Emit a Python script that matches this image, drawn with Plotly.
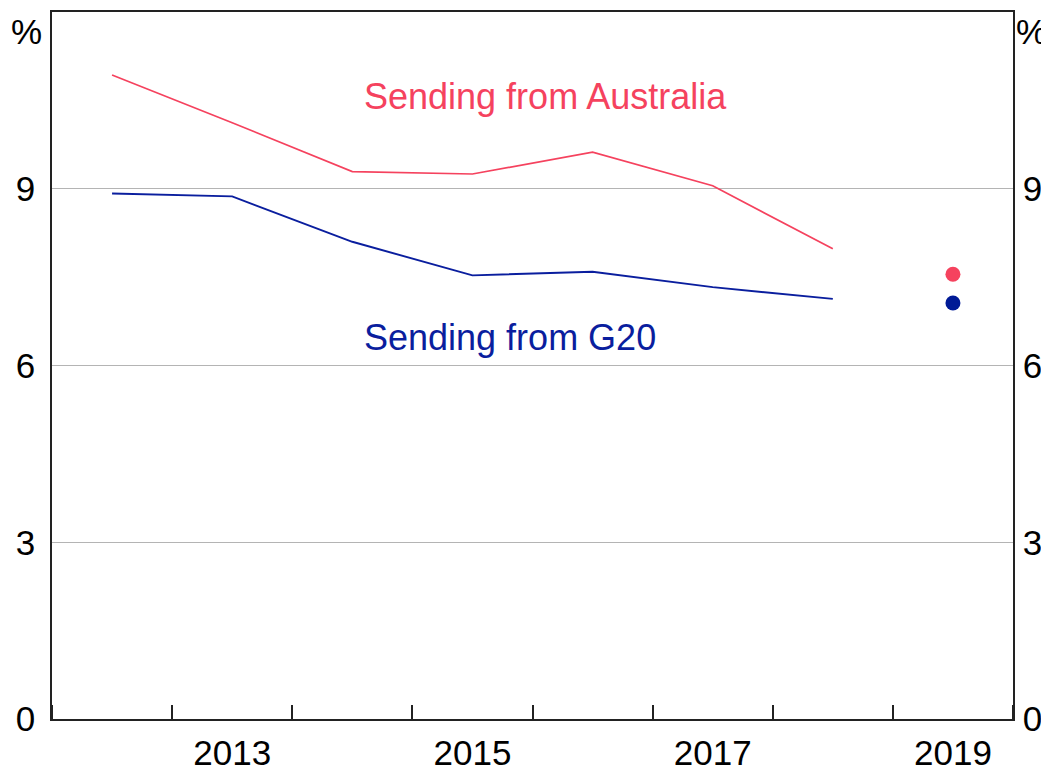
import plotly.graph_objects as go

# Data (%)
years = [2012.5, 2013.5, 2014.5, 2015.5, 2016.5, 2017.5, 2018.5]
australia = [10.93, 10.12, 9.29, 9.25, 9.62, 9.05, 7.98]
g20 = [8.92, 8.87, 8.10, 7.53, 7.59, 7.33, 7.13]
latest_year = [2019.5]
australia_latest = [7.55]
g20_latest = [7.06]

x_label_vals = [2013.5, 2015.5, 2017.5, 2019.5]
x_label_text = ["2013", "2015", "2017", "2019"]
y_ticks = [0, 3, 6, 9]

RED = "#F5425E"
BLUE = "#0A1E9E"
FONT = "Arial, Liberation Sans, sans-serif"

fig = go.Figure()
fig.add_trace(go.Scatter(x=years, y=australia, mode="lines",
                         line=dict(color=RED, width=1.7), showlegend=False))
fig.add_trace(go.Scatter(x=years, y=g20, mode="lines",
                         line=dict(color=BLUE, width=1.9), showlegend=False))
fig.add_trace(go.Scatter(x=latest_year, y=australia_latest, mode="markers",
                         marker=dict(color=RED, size=15), showlegend=False,
                         yaxis="y2"))
fig.add_trace(go.Scatter(x=latest_year, y=g20_latest, mode="markers",
                         marker=dict(color="#001A96", size=15), showlegend=False,
                         yaxis="y2"))

fig.add_annotation(x=2014.58, y=10.56, text="Sending from Australia",
                   xanchor="left", yanchor="middle", showarrow=False,
                   font=dict(color=RED, size=36, family=FONT))
fig.add_annotation(x=2014.58, y=6.47, text="Sending from G20",
                   xanchor="left", yanchor="middle", showarrow=False,
                   font=dict(color=BLUE, size=36, family=FONT))
for xp, xa, xs in [(0, "right", -8), (1, "left", 1)]:
    fig.add_annotation(x=xp, y=1, xref="paper", yref="paper", text="%",
                       xanchor=xa, yanchor="top", showarrow=False,
                       xshift=xs, yshift=2,
                       font=dict(color="black", size=35, family=FONT))

axis_line = dict(showline=True, linecolor="#222", linewidth=1.5,
                 automargin=False)

# The page body has an 8px margin, so the figure is sized to fit the window.
fig.update_layout(
    width=1041, height=763,
    margin=dict(l=44, r=36, t=4, b=52),
    plot_bgcolor="white", paper_bgcolor="white",
    font=dict(family=FONT, size=35, color="black"),
    xaxis=dict(range=[2012, 2020], tickmode="array", tickvals=x_label_vals,
               ticktext=x_label_text, ticks="", showgrid=False, zeroline=False,
               mirror=True, ticklabelstandoff=2,
               minor=dict(tickmode="linear", tick0=2012, dtick=1,
                          ticks="inside", ticklen=14, tickcolor="#222",
                          tickwidth=1.5, showgrid=False),
               **axis_line),
    yaxis=dict(range=[0, 12], tickmode="array", tickvals=y_ticks,
               ticks="", showgrid=True, gridcolor="#b4b4b4", gridwidth=1.3,
               zeroline=False, ticklabelstandoff=8, **axis_line),
    yaxis2=dict(range=[0, 12], tickmode="array", tickvals=y_ticks,
                overlaying="y", side="right", ticks="", showgrid=False,
                zeroline=False, ticklabelstandoff=1, **axis_line),
)

fig.write_html("out.html")
